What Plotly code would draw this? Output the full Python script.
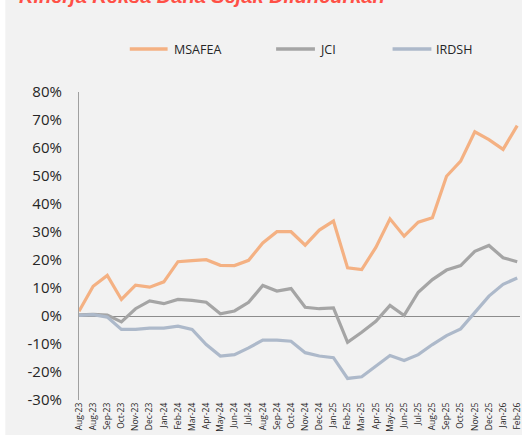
import plotly.graph_objects as go

months = ["Aug-23", "Aug-23", "Sep-23", "Oct-23", "Nov-23", "Dec-23", "Jan-24", "Feb-24",
          "Mar-24", "Apr-24", "May-24", "Jun-24", "Jul-24", "Aug-24", "Sep-24", "Oct-24",
          "Nov-24", "Dec-24", "Jan-25", "Feb-25", "Mar-25", "Apr-25", "May-25", "Jun-25",
          "Jul-25", "Aug-25", "Sep-25", "Oct-25", "Nov-25", "Dec-25", "Jan-26", "Feb-26"]

msafea = [1.7, 10.6, 14.5, 5.9, 11.0, 10.3, 12.2, 19.4, 19.8, 20.1, 18.1, 18.0, 19.9, 26.1,
          30.1, 30.1, 25.3, 30.7, 33.9, 17.2, 16.6, 24.5, 34.7, 28.5, 33.5, 35.1, 49.9, 55.3,
          65.8, 63.0, 59.5, 68.0]
jci = [0.4, 0.6, 0.3, -2.1, 2.6, 5.4, 4.4, 5.9, 5.6, 4.9, 0.8, 1.8, 4.9, 10.9, 8.9, 9.8,
       3.1, 2.6, 2.9, -9.4, -5.8, -1.9, 3.8, 0.2, 8.5, 13.0, 16.4, 18.0, 23.1, 25.2, 20.8, 19.4]
irdsh = [0.2, 0.5, -0.4, -4.8, -4.8, -4.3, -4.3, -3.6, -4.8, -10.2, -14.3, -13.8, -11.4, -8.6,
         -8.6, -9.0, -13.1, -14.3, -14.9, -22.3, -21.7, -18.0, -14.1, -15.9, -13.8, -10.2, -7.0,
         -4.6, 1.1, 7.1, 11.3, 13.6]

series_names = ["MSAFEA", "JCI", "IRDSH"]
series_colors = ["#F4B183", "#A5A5A5", "#ADB9CA"]
y_ticks = [-30, -20, -10, 0, 10, 20, 30, 40, 50, 60, 70, 80]
title_text = "Kinerja Reksa Dana Sejak Diluncurkan"

x = list(range(len(months)))

fig = go.Figure()
for name, vals, col in zip(series_names, [msafea, jci, irdsh], series_colors):
    fig.add_trace(go.Scatter(x=x, y=vals, name=name, mode="lines",
                             line=dict(color=col, width=3.2), showlegend=False))

W, H = 522, 435
ml, mr, mt, mb = 79, 0, 92, 35
pw = W - ml - mr
ph = H - mt - mb

def px_x(p):
    return (p - ml) / pw

def px_y(p):
    return (H - mb - p) / ph

shapes = []
annotations = []
# left white strip
shapes.append(dict(type="rect", xref="paper", yref="paper", x0=px_x(-2), x1=px_x(5),
                   y0=px_y(-2), y1=px_y(H + 2), fillcolor="white", line=dict(width=0), layer="below"))

# manual legend
leg = [(130, 168, 172), (277, 316, 319), (394, 433, 436)]
for (x0, x1, tx), name, col in zip(leg, series_names, series_colors):
    shapes.append(dict(type="line", xref="paper", yref="paper", x0=px_x(x0), x1=px_x(x1),
                       y0=px_y(49), y1=px_y(49), line=dict(color=col, width=3.5)))
    annotations.append(dict(text=name, xref="paper", yref="paper", x=px_x(tx), y=px_y(49),
                            xanchor="left", yanchor="middle", showarrow=False,
                            font=dict(family="Open Sans", size=12.5, color="#262626")))

annotations.append(dict(text="<b><i>" + title_text + "</i></b>", xref="paper", yref="paper",
                        x=px_x(17), y=px_y(8.5), xanchor="left", yanchor="bottom", showarrow=False,
                        font=dict(family="Liberation Sans", size=20, color="#FF5046")))

fig.update_layout(
    width=W, height=H,
    margin=dict(l=ml, r=mr, t=mt, b=mb, pad=0),
    paper_bgcolor="#F2F2F2", plot_bgcolor="#F2F2F2",
    shapes=shapes, annotations=annotations,
    showlegend=False,
)
fig.update_xaxes(range=[0, pw / 14.2], tickmode="array", tickvals=x, ticktext=months,
                 tickangle=-90, showgrid=False, zeroline=False, showline=False,
                 ticklabeloverflow="allow",
                 tickfont=dict(family="Open Sans", size=8.5, color="#262626"), ticks="")
fig.update_yaxes(range=[-30, 80], tickvals=y_ticks, ticktext=[f"{v}%" for v in y_ticks],
                 showgrid=False, zeroline=True, zerolinecolor="#8C8C8C", zerolinewidth=1.2,
                 showline=True, linecolor="#A0A0A0", linewidth=1.2, ticks="",
                 ticklabelstandoff=13,
                 tickfont=dict(family="Open Sans", size=15, color="#262626"))

fig.write_html("out.html", config={"displayModeBar": False},
               post_script="document.body.style.margin='0';document.body.style.overflow='hidden';")
